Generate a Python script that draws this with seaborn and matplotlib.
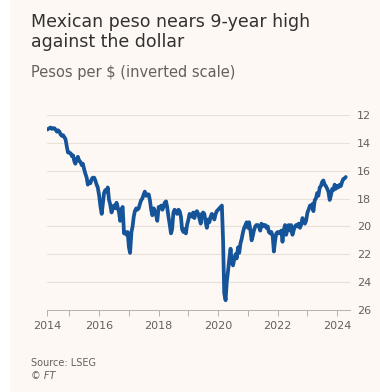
import matplotlib
matplotlib.use("Agg")
import matplotlib.pyplot as plt
import numpy as np
import pandas as pd
import seaborn as sns

# --- data: USD/MXN (twice a month, Apr 2014 -> Apr 2024)
pesos_2014 = [13.05, 13.0, 12.95, 12.9, 13.0, 12.95, 12.95, 13.05, 13.2, 13.1,
              13.2, 13.4, 13.5, 13.45, 13.6, 13.75, 14.3, 14.7]
pesos_2015 = [14.7, 14.75, 14.95, 14.9, 15.3, 15.5, 15.2, 15.0, 15.3, 15.35, 15.6, 15.5,
              15.9, 16.2, 16.5, 17.0, 16.8, 16.9, 16.6, 16.5, 16.5, 16.7, 17.0, 17.2]
pesos_2016 = [17.8, 18.5, 19.1, 18.4, 17.6, 17.4, 17.5, 17.2, 18.1, 18.4, 19.0, 18.6,
              18.5, 18.7, 18.3, 18.6, 19.0, 19.6, 18.8, 18.6, 20.5, 20.4, 20.6, 20.4]
pesos_2017 = [21.5, 21.9, 20.4, 20.0, 19.3, 18.9, 18.7, 18.8, 18.7, 18.4, 18.1, 18.0,
              17.7, 17.5, 17.8, 17.7, 17.7, 18.1, 18.8, 19.2, 18.7, 18.9, 19.2, 19.6]
pesos_2018 = [18.6, 18.7, 18.5, 18.8, 18.6, 18.3, 18.2, 18.6, 19.3, 19.8, 20.5, 20.2,
              19.0, 18.8, 18.9, 19.1, 18.8, 18.9, 19.3, 20.2, 20.4, 20.2, 20.5, 19.9]
pesos_2019 = [19.5, 19.1, 19.2, 19.3, 19.0, 19.4, 19.0, 18.9, 19.1, 19.4, 19.8, 19.1,
              19.0, 19.1, 19.7, 20.1, 19.5, 19.7, 19.3, 19.1, 19.3, 19.5, 19.1, 18.9]
pesos_2020 = [18.8, 18.7, 18.6, 18.5, 21.0, 24.8, 25.3, 24.0, 23.2, 22.4, 21.6, 22.6,
              22.8, 22.4, 22.0, 22.3, 21.5, 21.9, 21.2, 20.9, 20.4, 20.1, 19.9, 19.7]
pesos_2021 = [20.1, 19.7, 20.3, 21.0, 20.7, 20.3, 20.0, 19.9, 19.9, 20.0, 20.3, 19.8,
              20.0, 19.9, 19.9, 20.1, 20.0, 20.4, 20.5, 20.4, 20.7, 21.8, 21.0, 20.5]
pesos_2022 = [20.4, 20.5, 20.4, 20.3, 21.1, 20.3, 19.9, 20.6, 20.2, 19.9, 20.3, 19.9,
              20.6, 20.3, 20.0, 19.9, 20.0, 19.8, 20.1, 19.9, 19.4, 19.6, 19.8, 19.6]
pesos_2023 = [19.0, 18.8, 18.5, 18.6, 18.4, 18.9, 18.1, 18.0, 17.6, 17.8, 17.2, 17.1,
              16.8, 16.7, 17.0, 17.1, 17.3, 17.5, 18.1, 17.8, 17.3, 17.4, 17.0, 17.3]
pesos_2024 = [17.1, 17.2, 17.0, 17.1, 16.8, 16.6, 16.55, 16.45]

y_ticks = [12, 14, 16, 18, 20, 22, 24, 26]
x_years = list(range(2015, 2025))
x_labels = ["2014", "", "2016", "", "2018", "", "2020", "", "2022", "", "2024"]

pesos = (pesos_2014 + pesos_2015 + pesos_2016 + pesos_2017 + pesos_2018 + pesos_2019
         + pesos_2020 + pesos_2021 + pesos_2022 + pesos_2023 + pesos_2024)
dates = pd.date_range("2014-04-01", periods=len(pesos), freq="SMS")
df = pd.DataFrame({"date": dates, "pesos": pesos})
df["t"] = df["date"].dt.year + (df["date"].dt.dayofyear - 1) / 365.25

# --- style
bg = "#fdf8f3"
sns.set_theme(style="white")
plt.rcParams["font.family"] = ["DejaVu Sans"]

fig = plt.figure(figsize=(3.8, 3.92), dpi=100, facecolor=bg)
fig.patches.append(plt.Rectangle((0, 0), 10 / 380, 1, transform=fig.transFigure,
                                 facecolor="white", edgecolor="none", zorder=-1))
ax = fig.add_axes([47 / 380, 1 - 310 / 392, 303 / 380, 195 / 392])
ax.set_facecolor(bg)

for v in y_ticks[:-1]:
    ax.axhline(v, color="#e8e1da", lw=0.8, zorder=0)

sns.lineplot(data=df, x="t", y="pesos", ax=ax, color="#155499", lw=2.7,
             solid_joinstyle="round", zorder=3)

ax.set_ylim(26, 12)
ax.set_xlim(df["t"].iloc[0], 2024.43)
ax.yaxis.tick_right()
ax.set_yticks(y_ticks)
ax.set_xticks([df["t"].iloc[0]] + x_years)
ax.set_xticklabels(x_labels)
ax.tick_params(axis="y", length=0, pad=5, labelsize=8, labelcolor="#66605c")
ax.tick_params(axis="x", bottom=True, length=4, width=0.7, color="#b8b1aa",
               pad=4, labelsize=8, labelcolor="#66605c")
ax.set_xlabel("")
ax.set_ylabel("")
for s in ["top", "left", "right"]:
    ax.spines[s].set_visible(False)
ax.spines["bottom"].set_color("#b8b1aa")
ax.spines["bottom"].set_linewidth(0.7)

fig.text(31 / 380, 1 - 22 / 392, "Mexican peso nears 9-year high",
         ha="left", va="center", fontsize=12.5, color="#33302e")
fig.text(31 / 380, 1 - 42 / 392, "against the dollar",
         ha="left", va="center", fontsize=12.5, color="#33302e")
fig.text(31 / 380, 1 - 72 / 392, "Pesos per $ (inverted scale)", ha="left", va="center",
         fontsize=10.5, color="#66605c")
fig.text(31 / 380, 1 - 363 / 392, "Source: LSEG", ha="left", va="center",
         fontsize=7, color="#66605c")
fig.text(31 / 380, 1 - 376 / 392, "© FT", ha="left", va="center",
         fontsize=7, color="#66605c", style="italic")

fig.savefig("out.png", dpi=100, facecolor=bg)
